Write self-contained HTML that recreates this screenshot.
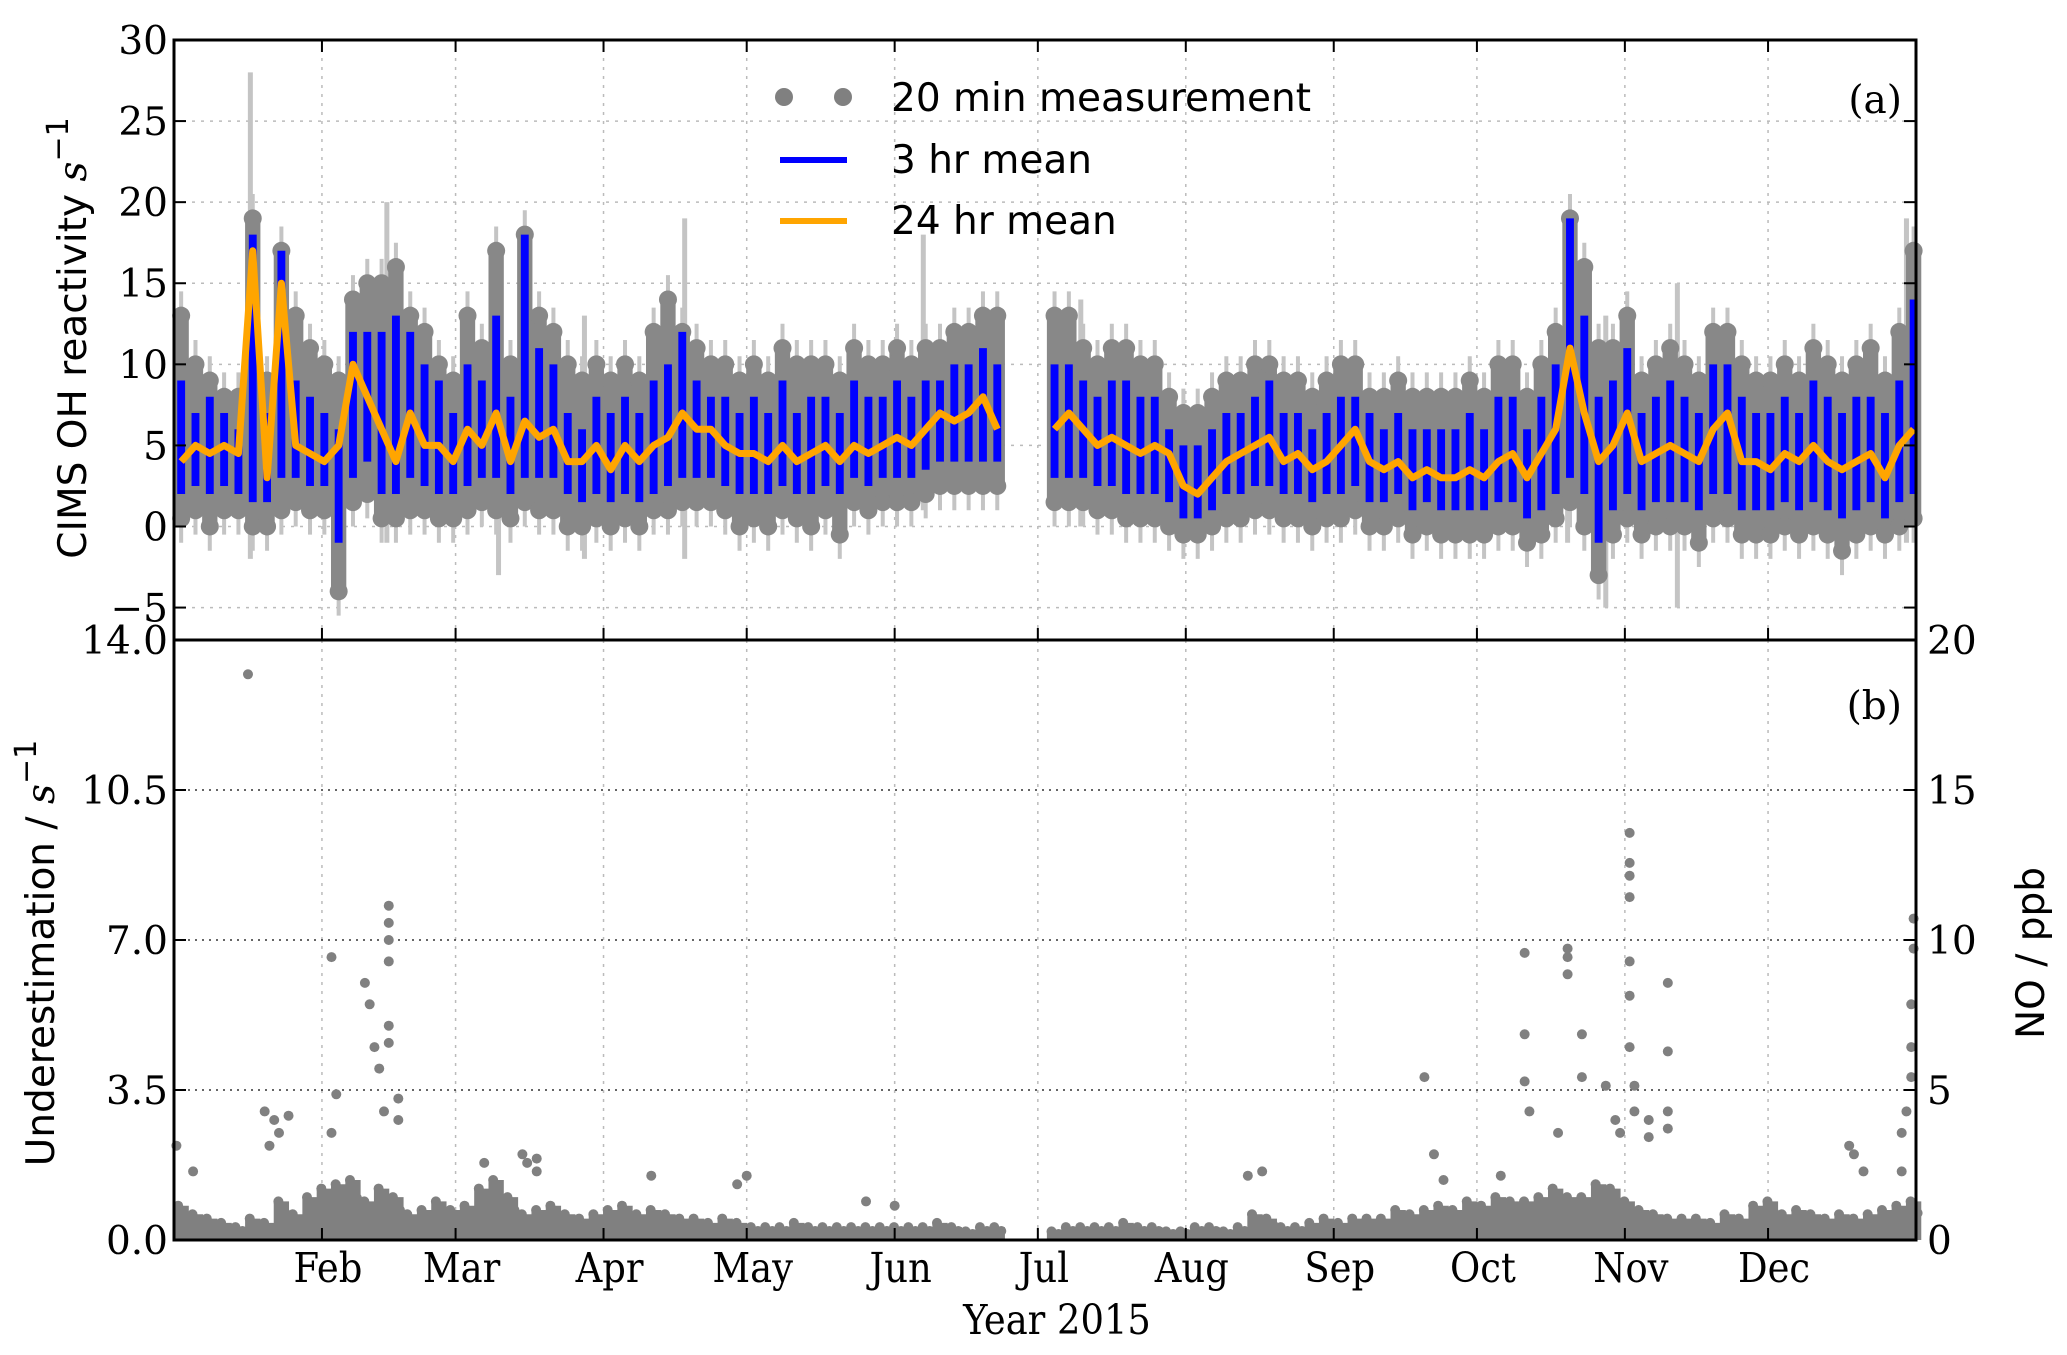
<!DOCTYPE html>
<html><head><meta charset="utf-8"><style>
html,body{margin:0;padding:0;background:#fff}
svg{display:block}
.tk{font-family:"DejaVu Serif","Liberation Serif",serif;font-size:39px;fill:#000}
.xt{font-family:"DejaVu Serif Condensed","DejaVu Serif","Liberation Serif",serif;font-size:41px;fill:#000}
.lb{font-family:"DejaVu Sans","Liberation Sans",sans-serif;font-size:39px;fill:#000}
</style></head><body>
<svg id="chart" width="2067" height="1355" viewBox="0 0 2067 1355" xmlns="http://www.w3.org/2000/svg"></svg>
<script>
// ---- data (3-day bins, bin i centred at day 3*i+1.5) ----
const monthLabels=["Feb","Mar","Apr","May","Jun","Jul","Aug","Sep","Oct","Nov","Dec"];
const monthDays=[31,59,90,120,151,181,212,243,273,304,334];
const topTicks=[-5,0,5,10,15,20,25,30];
const botTicks=[0,3.5,7,10.5,14];
const botTickLabels=["0.0","3.5","7.0","10.5","14.0"];
const noTicks=[0,5,10,15,20];
const mean24=[4,5,4.5,5,4.5,17,3,15,5,4.5, 4,5,10,8,6,4,7,5,5,4, 6,5,7,4,6.5,5.5,6,4,4,5, 3.5,5,4,5,5.5,7,6,6,5,4.5, 4.5,4,5,4,4.5,5,4,5,4.5,5, 5.5,5,6,7,6.5,7,8,6,null,null, null,6,7,6,5,5.5,5,4.5,5,4.5, 2.5,2,3,4,4.5,5,5.5,4,4.5,3.5, 4,5,6,4,3.5,4,3,3.5,3,3, 3.5,3,4,4.5,3,4.5,6,11,7,4, 5,7,4,4.5,5,4.5,4,6,7,4, 4,3.5,4.5,4,5,4,3.5,4,4.5,3, 5,6];
const blueHi=[9,7,8,7,6,18,7,17,9,8, 7,6,12,12,12,13,12,10,9,7, 10,9,13,8,18,11,10,7,6,8, 7,8,7,9,10,12,9,8,8,7, 8,7,9,7,8,8,7,9,8,8, 9,8,9,9,10,10,11,10,null,null, null,10,10,9,8,9,9,8,8,6, 5,5,6,7,7,8,9,7,7,6, 7,8,8,7,6,7,6,6,6,6, 7,6,8,8,6,8,10,19,13,8, 9,11,7,8,9,8,7,10,10,8, 7,7,8,7,9,8,7,8,8,7, 9,14];
const blueLo=[2,2.5,2,2.5,2,1.5,1.5,3,3,2.5, 2.5,-1,3,4,2,2,3,2.5,2,2, 2.5,3,3,2,3,3,3,2,1.5,2, 1.5,2,1.5,2,2.5,3,3,3,2.5,2, 2,2,2.5,2,2,2.5,2,3,2.5,3, 3,3,3.5,4,4,4,4,4,null,null, null,3,3,3,2.5,2.5,2,2,2,1.5, 0.5,0.5,1,2,2,2.5,2.5,2,2,1.5, 2,2,2.5,1.5,1.5,2,1,1.5,1,1, 1,1,1.5,1.5,0.5,1,2,3,2,-1, 1,2,1,1.5,1.5,1.5,1,2,2,1, 1,1,1.5,1,1.5,1,0.5,1,1.5,0.5, 1.5,2];
const greyHi=[13,10,9,8,8,19,9,17,13,11, 10,9,14,15,15,16,13,12,10,9, 13,11,17,10,18,13,12,10,9,10, 9,10,9,12,14,12,11,10,10,9, 10,9,11,10,10,10,9,11,10,10, 11,10,11,11,12,12,13,13,null,null, null,13,13,11,10,11,11,10,10,8, 7,7,8,9,9,10,10,9,9,8, 9,10,10,8,8,9,8,8,8,8, 9,8,10,10,8,10,12,19,16,11, 11,13,9,10,11,10,9,12,12,10, 9,9,10,9,11,10,9,10,11,9, 12,17];
const greyLo=[0.5,1,0,1,1,0,0,1,1.5,1, 1,-4,1.5,2,0.5,0.5,1,1,0.5,0.5, 1,1.5,1,0.5,1.5,1,1,0,0,0.5, 0,0.5,0,1,1,1.5,1.5,1.5,1,0, 0.5,0,1,0.5,0,1,-0.5,1.5,1,1.5, 1.5,1.5,2,2.5,2.5,2.5,2.5,2.5,null,null, null,1.5,1.5,1.5,1,1,0.5,0.5,0.5,0, -0.5,-0.5,0,0.5,0.5,1,1,0.5,0.5,0, 0.5,0.5,1,0,0,0.5,-0.5,0,-0.5,-0.5, -0.5,-0.5,0,0,-1,-0.5,0.5,1.5,0,-3, -0.5,0.5,-0.5,0,0,0,-1,0.5,0.5,-0.5, -0.5,-0.5,0,-0.5,0,-0.5,-1.5,-0.5,0,-0.5, 0,0.5];
const errDays=[16,44.6,68,86,107,157,190,292,300,315,363];
const errTop=[28,20,17,13,19,18,14,17,13,15,19];
const errBot=[-2,-1,-3,-2,-2,1,0,-1,-5,-5,-1];
const underBase=[0.8,0.6,0.5,0.4,0.3,0.5,0.4,0.9,0.6,1.0, 1.2,1.3,1.4,0.9,1.2,1.0,0.6,0.7,0.9,0.7, 0.8,1.2,1.4,1.0,0.6,0.7,0.8,0.6,0.5,0.6, 0.7,0.8,0.6,0.7,0.6,0.5,0.5,0.4,0.5,0.4, 0.3,0.3,0.3,0.4,0.3,0.3,0.3,0.3,0.3,0.3, 0.3,0.3,0.3,0.4,0.3,0.2,0.3,0.3,0,0, 0,0.2,0.3,0.3,0.3,0.3,0.4,0.3,0.3,0.2, 0.2,0.3,0.3,0.2,0.3,0.6,0.5,0.3,0.3,0.4, 0.5,0.4,0.5,0.5,0.5,0.7,0.6,0.7,0.8,0.7, 0.9,0.8,1.0,0.9,0.9,1.0,1.2,1.0,1.0,1.3, 1.2,0.9,0.7,0.6,0.5,0.5,0.5,0.4,0.6,0.5, 0.8,0.9,0.6,0.7,0.6,0.5,0.6,0.5,0.6,0.7, 0.8,0.9];
const outDays=[0.5,4,15.5,19,21,22,24,20,33,34,33,40,41,42,43,45,45,45,45,45,45,44,47,47,65,73,74,76,76,100,120,118,145,151,225,228,262,264,266,278,283,283,283,284,290,292,292,292,295,295,300,302,303,305,305,305,305,305,305,305,306,306,309,309,313,313,313,313,351,352,354,362,364.5,364.5,364,364,364,363,362];
const outVals=[2.2,1.6,13.2,3.0,2.8,2.5,2.9,2.2,6.6,3.4,2.5,6.0,5.5,4.5,4.0,7.8,7.4,7.0,6.5,5.0,4.6,3.0,3.3,2.8,1.8,2.0,1.8,1.9,1.6,1.5,1.5,1.3,0.9,0.8,1.5,1.6,3.8,2.0,1.4,1.5,6.7,4.8,3.7,3.0,2.5,6.8,6.6,6.2,4.8,3.8,3.6,2.8,2.5,9.5,8.8,8.5,8.0,6.5,5.7,4.5,3.6,3.0,2.8,2.4,6.0,4.4,3.0,2.6,2.2,2.0,1.6,1.6,7.5,6.8,5.5,4.5,3.8,3.0,2.5];

// ---- layout ----
const L=174,R=1916,T=40,M=640,B=1240;
const X=d=>L+(R-L)*d/365;
const YT=v=>T+(30-v)*(M-T)/37;
const YB=v=>B-v*(B-M)/14;
const YN=v=>B-v*(B-M)/20;
const NS="http://www.w3.org/2000/svg";
const svg=document.getElementById('chart');
function mk(tag,attrs,parent){const e=document.createElementNS(NS,tag);for(const k in attrs)e.setAttribute(k,attrs[k]);(parent||svg).appendChild(e);return e;}

const gGrid=mk('g',{});


monthDays.forEach(d=>{
  mk('line',{x1:X(d),x2:X(d),y1:T,y2:M,stroke:'#bbb','stroke-width':1.5,'stroke-dasharray':'3,6'},gGrid);
  mk('line',{x1:X(d),x2:X(d),y1:M,y2:B,stroke:'#bbb','stroke-width':1.5,'stroke-dasharray':'3,6'},gGrid);
});
topTicks.forEach(v=>mk('line',{x1:L,x2:R,y1:YT(v),y2:YT(v),stroke:'#bbb','stroke-width':1.5,'stroke-dasharray':'3,6'},gGrid));
botTicks.forEach(v=>mk('line',{x1:L,x2:R,y1:YB(v),y2:YB(v),stroke:'#333','stroke-width':1.5,'stroke-dasharray':'2,5'},gGrid));

// top panel
const gTop=mk('g',{});


errDays.forEach((d,i)=>{
  const e=mk('line',{x1:X(d),x2:X(d),y1:YT(errTop[i]),y2:YT(errBot[i]),stroke:'#c4c4c4','stroke-width':5},gTop);
  
  
});
const bw=(R-L)*3/365;
greyHi.forEach((h,i)=>{
  if(h===null)return;
  const cx=X(3*i+1.5);
  mk('line',{x1:cx,x2:cx,y1:YT(h+1.5),y2:YT(greyLo[i]-1.5),stroke:'#c4c4c4','stroke-width':4},gTop);
  const r=mk('line',{x1:cx,x2:cx,y1:YT(h),y2:YT(greyLo[i]),stroke:'#888','stroke-width':bw+1},gTop);
  
  
  mk('circle',{cx:cx,cy:YT(h),r:9,fill:'#888'},gTop);
  mk('circle',{cx:cx,cy:YT(greyLo[i]),r:9,fill:'#888'},gTop);
});
blueHi.forEach((h,i)=>{
  if(h===null)return;
  const cx=X(3*i+1.5);
  const r=mk('line',{x1:cx,x2:cx,y1:YT(h),y2:YT(blueLo[i]),stroke:'#0000ff','stroke-width':bw*0.55},gTop);
  
  
});
let segs=[],cur=[];
mean24.forEach((v,i)=>{if(v===null){if(cur.length)segs.push(cur);cur=[];}else cur.push(X(3*i+1.5).toFixed(1)+','+YT(v).toFixed(1));});
if(cur.length)segs.push(cur);
segs.forEach(s=>{
  const p=mk('polyline',{points:s.join(' '),fill:'none',stroke:'#ffa500','stroke-width':7,'stroke-linejoin':'round'},gTop);
  
  
});

// bottom panel
const gBot=mk('g',{});


underBase.forEach((v,i)=>{
  if(v<=0)return;
  const cx=X(3*i+1.5);
  mk('line',{x1:cx,x2:cx,y1:B,y2:YB(v),stroke:'#808080','stroke-width':bw+1},gBot);
  mk('circle',{cx:cx-3,cy:YB(v),r:5,fill:'#808080'},gBot);
  mk('circle',{cx:cx+4,cy:YB(v*0.7),r:5,fill:'#808080'},gBot);
});
outDays.forEach((d,i)=>{
  const c=mk('circle',{cx:X(d),cy:YB(outVals[i]),r:5,fill:'#808080'},gBot);
  
  
});

// axes frames
const gAx=mk('g',{});


mk('rect',{x:L,y:T,width:R-L,height:B-T,fill:'none',stroke:'#000','stroke-width':3},gAx);
mk('line',{x1:L,x2:R,y1:M,y2:M,stroke:'#000','stroke-width':3},gAx);
monthDays.forEach((d,i)=>{
  mk('line',{x1:X(d),x2:X(d),y1:M,y2:M-12,stroke:'#000','stroke-width':2},gAx);
  mk('line',{x1:X(d),x2:X(d),y1:B,y2:B-12,stroke:'#000','stroke-width':2},gAx);
  mk('line',{x1:X(d),x2:X(d),y1:T,y2:T+12,stroke:'#000','stroke-width':2},gAx);
  const t=mk('text',{x:X(d)+6,y:1282,'text-anchor':'middle',class:'xt'},gAx);t.textContent=monthLabels[i];
  
  
});
topTicks.forEach(v=>{
  mk('line',{x1:L,x2:L+12,y1:YT(v),y2:YT(v),stroke:'#000','stroke-width':2},gAx);
  mk('line',{x1:R,x2:R-12,y1:YT(v),y2:YT(v),stroke:'#000','stroke-width':2},gAx);
  const t=mk('text',{x:168,y:YT(v)+14,'text-anchor':'end',class:'tk'},gAx);t.textContent=v<0?'\u2212'+(-v):String(v);
  
  
});
botTicks.forEach((v,i)=>{
  mk('line',{x1:L,x2:L+12,y1:YB(v),y2:YB(v),stroke:'#000','stroke-width':2},gAx);
  const t=mk('text',{x:168,y:YB(v)+14,'text-anchor':'end',class:'tk'},gAx);t.textContent=botTickLabels[i];
  
  
});
noTicks.forEach(v=>{
  mk('line',{x1:R,x2:R-12,y1:YN(v),y2:YN(v),stroke:'#000','stroke-width':2},gAx);
  const t=mk('text',{x:1927,y:YN(v)+14,class:'tk'},gAx);t.textContent=String(v);
  
  
});
</script>
<svg style="position:absolute;left:0;top:0" width="2067" height="1355">
<text class="lb" transform="translate(86,338) rotate(-90)" text-anchor="middle">CIMS OH reactivity <tspan font-style="italic" font-family="DejaVu Serif,serif">s</tspan><tspan dy="-18" font-size="30">−1</tspan></text>
<text class="lb" transform="translate(54,953) rotate(-90)" text-anchor="middle">Underestimation / <tspan font-style="italic" font-family="DejaVu Serif,serif">s</tspan><tspan dy="-18" font-size="30">−1</tspan></text>
<text class="lb" transform="translate(2044,953) rotate(-90)" text-anchor="middle">NO / ppb</text>
<text class="xt" x="1057" y="1334" text-anchor="middle">Year 2015</text>
<text class="tk" x="1902" y="113" text-anchor="end" font-size="46">(a)</text>
<text class="tk" x="1902" y="719" text-anchor="end" font-size="46">(b)</text>
<g>
<circle cx="784" cy="97" r="9" fill="#808080"/><circle cx="843" cy="97" r="9" fill="#808080"/>
<text class="lb" x="891" y="111">20 min measurement</text>
<line x1="780" x2="847" y1="160" y2="160" stroke="#0000ff" stroke-width="6"/>
<text class="lb" x="891" y="173">3 hr mean</text>
<line x1="780" x2="847" y1="221" y2="221" stroke="#ffa500" stroke-width="6"/>
<text class="lb" x="891" y="234">24 hr mean</text>
</g>
</svg>
</body></html>
